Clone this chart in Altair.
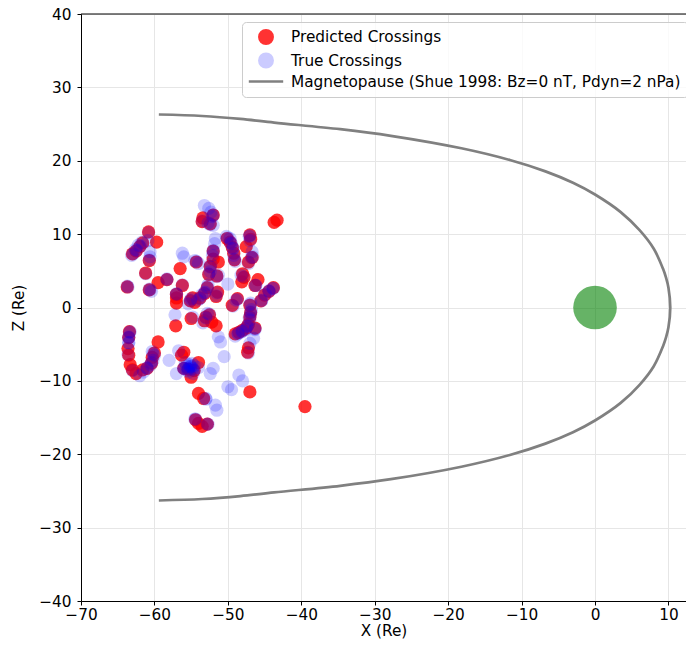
import altair as alt
import pandas as pd

P = "Predicted Crossings"
T = "True Crossings"
M = "Magnetopause (Shue 1998: Bz=0 nT, Pdyn=2 nPa)"

pred_x = [-63.7, -63.0, -62.5, -62.0, -61.6, -60.8, -59.7, -60.7, -61.2, -60.7,
          -59.5, -58.3, -57.0, -57.0, -56.5, -56.2, -57.1, -55.1, -54.8, -55.0,
          -54.3, -53.5, -53.4, -52.4, -52.0, -52.0, -52.0, -52.4, -52.6, -52.8,
          -53.2, -53.8, -54.5, -51.3, -51.5, -51.4, -51.6, -53.0, -53.2, -52.2,
          -51.6, -50.1, -49.7, -49.4, -49.2, -49.1, -48.7, -49.4, -48.0, -47.8,
          -48.1, -47.0, -46.9, -47.5, -46.7, -47.2, -45.9, -46.3, -45.5, -45.0,
          -44.4, -43.8, -43.7, -43.3, -47.0, -46.9, -47.0, -47.2, -47.5, -48.0,
          -48.5, -49.0, -46.3, -47.2, -47.3, -47.0, -53.3, -54.0, -54.4, -54.0,
          -53.5, -52.8, -56.0, -55.0, -56.3, -56.0, -54.0, -55.4, -54.6, -59.5,
          -60.3, -60.0, -60.4, -61.0, -61.6, -62.5, -63.0, -63.3, -63.5, -63.6,
          -63.5, -63.4, -39.5, -57.0, -52.5]
pred_z = [2.8, 7.3, 7.7, 8.3, 8.8, 10.3, 8.9, 6.4, 4.7, 2.4,
          3.4, 3.8, 1.3, 0.6, 5.3, 3.0, -2.5, 0.9, 1.3, -1.5,
          6.2, 11.7, 12.2, 11.4, 12.6, 7.7, 6.6, 5.6, 4.5, 2.7,
          1.9, 1.3, 0.7, 6.2, 4.3, 2.1, 1.5, -1.3, -1.8, -2.0,
          -2.5, 9.4, 8.9, 8.2, 7.4, 6.5, 1.2, 0.3, 4.6, 4.1,
          3.5, 9.9, 9.3, 8.3, 6.8, 6.2, 3.8, 3.0, 0.9, 1.7,
          2.2, 2.7, 11.6, 11.9, 0.3, -0.7, -1.3, -2.3, -2.8, -3.1,
          -3.4, -3.6, -2.8, -5.5, -6.1, -11.5, -12.4, -11.7, -15.3, -15.8,
          -16.2, -15.9, -8.3, -9.5, -6.5, -6.1, -7.5, -8.4, -8.6, -4.7,
          -6.8, -6.2, -7.6, -8.3, -8.5, -9.0, -8.5, -7.8, -6.5, -5.6,
          -4.1, -3.3, -13.5, 1.8, -1.0]

true_x = [-63.7, -63.1, -62.6, -62.2, -61.7, -60.9, -60.6, -60.6, -60.7, -60.4,
          -58.3, -57.0, -57.2, -56.2, -56.0, -55.0, -54.5, -54.0, -54.8, -55.4,
          -53.2, -52.6, -52.3, -52.1, -52.7, -52.0, -51.7, -51.8, -52.0, -52.1,
          -52.3, -52.4, -52.7, -53.1, -53.6, -54.1, -53.4, -52.8, -51.6, -51.3,
          -50.2, -49.7, -49.5, -49.3, -49.2, -49.0, -50.0, -48.9, -49.3, -48.2,
          -47.1, -47.0, -46.7, -46.6, -47.2, -46.2, -45.4, -44.9, -44.4, -43.9,
          -46.9, -46.8, -46.9, -47.0, -47.3, -47.6, -48.1, -48.6, -49.0, -46.3,
          -46.5, -47.0, -47.2, -48.5, -48.0, -50.0, -49.5, -50.5, -51.0, -51.3,
          -52.0, -52.4, -51.7, -51.5, -53.0, -54.5, -52.7, -55.6, -55.1, -54.6,
          -54.0, -55.3, -54.7, -56.0, -58.0, -57.0, -60.3, -60.0, -60.2, -60.5,
          -61.0, -61.5, -62.0, -63.5, -63.5, -63.3, -63.6, -55.8, -54.9, -56.7,
          -63.6, -62.9, -62.4, -61.9, -60.8, -60.7, -61.2, -60.6, -58.3, -56.2,
          -55.1, -54.3, -53.5, -52.4, -52.0, -52.0, -52.4, -52.6, -52.8, -53.2,
          -53.8, -51.5, -51.5, -53.0, -50.0, -49.6, -49.3, -49.1, -48.7, -47.9,
          -47.0, -46.8, -46.2, -45.4, -44.4, -43.8, -47.0, -46.9, -47.1, -47.4,
          -48.0, -48.6, -46.3, -54.4, -52.8, -53.0, -55.4, -54.6, -55.0, -56.0,
          -60.2, -60.4, -61.0, -63.0, -63.5, -63.4, -63.5, -57.0, -52.5, -55.2,
          -54.8, -55.5]
true_z = [2.9, 7.1, 7.9, 8.5, 8.9, 9.1, 7.6, 6.9, 2.5, 2.2,
          3.8, 1.8, -1.0, 7.4, 6.9, 1.2, 6.4, 6.0, -1.3, 0.5,
          13.9, 13.5, 13.0, 12.4, 11.5, 11.2, 9.4, 8.7, 7.8, 7.1,
          5.9, 4.9, 3.1, 2.1, 1.7, 1.0, -2.1, -0.8, 1.6, 4.4,
          9.7, 9.4, 8.7, 8.0, 7.1, 6.3, 3.2, 1.0, 0.2, 4.4,
          9.7, 9.1, 7.6, 6.9, 6.0, 3.0, 1.0, 1.8, 2.3, 2.6,
          0.6, -0.3, -1.0, -1.7, -2.5, -3.0, -3.3, -3.6, -3.9, -3.0,
          -4.2, -4.9, -6.2, -9.2, -10.0, -10.8, -11.2, -6.7, -4.7, -4.0,
          -8.3, -9.0, -13.3, -14.0, -12.5, -15.2, -15.9, -8.0, -8.1, -7.9,
          -8.2, -8.8, -9.0, -8.3, -7.2, -9.0, -6.0, -6.5, -7.2, -7.8,
          -8.3, -8.8, -9.3, -4.0, -4.8, -3.3, -6.4, -7.5, -7.6, -5.9,
          2.8, 7.3, 7.8, 8.4, 10.2, 6.5, 4.6, 2.4, 3.9, 3.1,
          1.0, 6.3, 11.8, 11.3, 12.6, 7.6, 5.5, 4.6, 2.8, 2.0,
          1.2, 4.2, 2.0, -1.4, 9.5, 8.8, 8.1, 6.6, 1.1, 4.2,
          9.8, 6.8, 3.0, 0.9, 2.2, 2.6, 0.4, -0.6, -1.4, -2.6,
          -3.2, -3.5, -2.9, -15.2, -15.9, -12.4, -8.3, -8.5, -8.0, -8.3,
          -6.3, -7.5, -8.2, -8.6, -4.1, -3.4, -4.8, 1.9, -0.9, -7.8,
          -8.3, -8.6]

mp_x = [-59.4, -53.5, -48.3, -43.7, -34.7, -27.8, -18.2, -11.6, -6.75, -3.0,
        0.0, 3.5, 6.1, 8.0, 9.25, 9.69, 10.0, 10.25,
        10.0, 9.69, 9.25, 8.0, 6.1, 3.5, 0.0, -3.0, -6.75, -11.6,
        -18.2, -27.8, -34.7, -43.7, -48.3, -53.5, -59.4]
mp_z = [26.3, 26.1, 25.7, 25.2, 24.3, 23.4, 21.7, 20.1, 18.55, 17.0,
        15.4, 13.0, 10.5, 8.0, 5.3, 4.0, 2.7, 0.0,
        -2.7, -4.0, -5.3, -8.0, -10.5, -13.0, -15.4, -17.0, -18.55, -20.1,
        -21.7, -23.4, -24.3, -25.2, -25.7, -26.1, -26.3]

earth_x = [0.0]
earth_z = [0.0]

x_ticks = [-70, -60, -50, -40, -30, -20, -10, 0, 10]
y_ticks = [-40, -30, -20, -10, 0, 10, 20, 30, 40]

pts = pd.DataFrame({
    "x": pred_x + true_x,
    "z": pred_z + true_z,
    "series": [P] * len(pred_x) + [T] * len(true_x),
})
mp = pd.DataFrame({"x": mp_x, "z": mp_z, "i": list(range(len(mp_x))), "series": [M] * len(mp_x)})
earth = pd.DataFrame({"x": earth_x, "z": earth_z})
spine = pd.DataFrame({"z": [40]})

FONT = "DejaVu Sans"
FS = 15.3

domain = [P, T, M]
color_scale = alt.Scale(type="ordinal", domain=domain, range=["#ff0000", "#0000ff", "#808080"])
opacity_scale = alt.Scale(type="ordinal", domain=domain, range=[0.8, 0.2, 1.0])
shape_scale = alt.Scale(type="ordinal", domain=domain, range=["circle", "circle", "M-2.6,0H2.6"])

legend = alt.Legend(
    title=None, orient="none", legendX=161, legendY=8,
    fillColor="rgba(255,255,255,0.8)", strokeColor="#cccccc", cornerRadius=4,
    padding=7, symbolOffset=9, labelOffset=17, rowPadding=-2.5,
    symbolSize=175, symbolStrokeWidth=2.7,
    labelFont=FONT, labelFontSize=FS, labelColor="black", labelLimit=600,
)

xs = alt.Scale(domain=[-70, 12.39], nice=False, zero=False)
ys = alt.Scale(domain=[-40, 40], nice=False, zero=False)

x_axis = alt.Axis(values=x_ticks, labelFlush=False, labelOverlap=False,
                  labelPadding=2, titlePadding=1, format="d")
y_axis = alt.Axis(values=y_ticks, labelFlush=False, labelOverlap=False,
                  labelPadding=6, titlePadding=12, format="d")

points = alt.Chart(pts).mark_point(filled=True, size=175, strokeWidth=0).encode(
    x=alt.X("x:Q", scale=xs, axis=x_axis, title="X (Re)"),
    y=alt.Y("z:Q", scale=ys, axis=y_axis, title="Z (Re)"),
    color=alt.Color("series:N", scale=color_scale, legend=legend),
    opacity=alt.Opacity("series:N", scale=opacity_scale, legend=legend),
    shape=alt.Shape("series:N", scale=shape_scale, legend=legend),
)

line = alt.Chart(mp).mark_line(strokeWidth=2.7, interpolate="catmull-rom").encode(
    x=alt.X("x:Q", scale=xs),
    y=alt.Y("z:Q", scale=ys),
    order="i:Q",
    color=alt.Color("series:N", scale=color_scale, legend=legend),
)

earth_layer = alt.Chart(earth).mark_circle(size=1900, color="green", opacity=0.6).encode(
    x=alt.X("x:Q", scale=xs),
    y=alt.Y("z:Q", scale=ys),
)

top_spine = alt.Chart(spine).mark_rule(color="black", strokeWidth=1).encode(
    y=alt.Y("z:Q", scale=ys),
)

chart = alt.layer(points, line, earth_layer, top_spine).properties(
    width=605, height=587,
    autosize=alt.AutoSizeParams(type="none"),
    padding={"left": 73, "top": 6, "right": 0, "bottom": 38},
).configure_view(stroke=None).configure_axis(
    domainColor="black", domainWidth=1, tickColor="black", tickSize=4, tickWidth=1,
    labelFont=FONT, labelFontSize=FS, labelColor="black",
    titleFont=FONT, titleFontSize=FS, titleFontWeight="normal", titleColor="black",
    gridColor="#e6e6e6", gridWidth=1,
)

chart.save("out.html", embed_options={"renderer": "svg", "actions": False})
